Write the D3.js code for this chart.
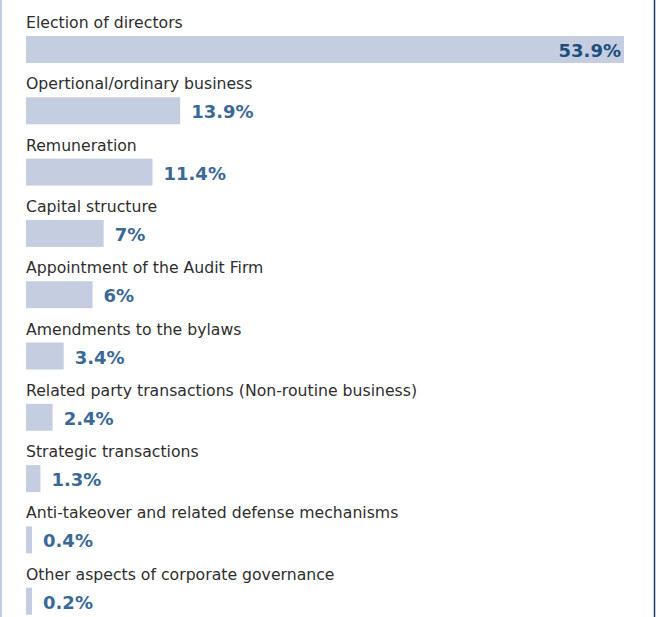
<!DOCTYPE html>
<html>
<head>
<meta charset="utf-8">
<script src="https://cdn.jsdelivr.net/npm/d3@7/dist/d3.min.js"></script>
<style>
  html, body { margin: 0; padding: 0; background: #fff; }
  svg { display: block; }
</style>
</head>
<body>
<div id="chart"></div>
<script>
// Topics of shareholder proposals, share of total (%)
const categories = [
  'Election of directors',
  'Opertional/ordinary business',
  'Remuneration',
  'Capital structure',
  'Appointment of the Audit Firm',
  'Amendments to the bylaws',
  'Related party transactions (Non-routine business)',
  'Strategic transactions',
  'Anti-takeover and related defense mechanisms',
  'Other aspects of corporate governance'
];
const values = [53.9, 13.9, 11.4, 7, 6, 3.4, 2.4, 1.3, 0.4, 0.2];
const valueLabels = ['53.9%', '13.9%', '11.4%', '7%', '6%', '3.4%', '2.4%', '1.3%', '0.4%', '0.2%'];

const width = 656, height = 617;
const left = 26;
const barH = 27;

const rows = categories.map((c, i) => ({ name: c, value: values[i], label: valueLabels[i] }));

const svg = d3.select('#chart').append('svg')
  .attr('width', width)
  .attr('height', height);

// frame lines
svg.append('line')
  .attr('x1', 1).attr('x2', 1).attr('y1', 0).attr('y2', height)
  .attr('stroke', '#a9bdd4').attr('stroke-width', 1.5);
svg.append('line')
  .attr('x1', 654.5).attr('x2', 654.5).attr('y1', 0).attr('y2', height)
  .attr('stroke', '#1f3864').attr('stroke-width', 1.5);

const x = d3.scaleLinear().domain([0, 53.9]).range([0, 598]);
const y = d3.scaleBand().domain(categories).range([36, 36 + 61.3 * categories.length]);

const g = svg.append('g')
  .selectAll('g')
  .data(rows)
  .join('g')
  .attr('transform', d => `translate(${left},${y(d.name)})`);

g.append('text')
  .attr('x', 0)
  .attr('y', -8)
  .attr('fill', '#2e2e2e')
  .style('font', '15.7px "DejaVu Sans", sans-serif')
  .text(d => d.name);

g.append('rect')
  .attr('x', 0)
  .attr('y', 0)
  .attr('width', d => Math.max(6, x(d.value)))
  .attr('height', barH)
  .attr('fill', '#c5cee1');

g.append('text')
  .attr('x', (d, i) => i === 0 ? x(d.value) - 3 : Math.max(6, x(d.value)) + 11)
  .attr('y', 21)
  .attr('text-anchor', (d, i) => i === 0 ? 'end' : 'start')
  .attr('fill', (d, i) => i === 0 ? '#1d4f7c' : '#3b6997')
  .style('font', 'bold 18px "DejaVu Sans", sans-serif')
  .text(d => d.label);
</script>
</body>
</html>
